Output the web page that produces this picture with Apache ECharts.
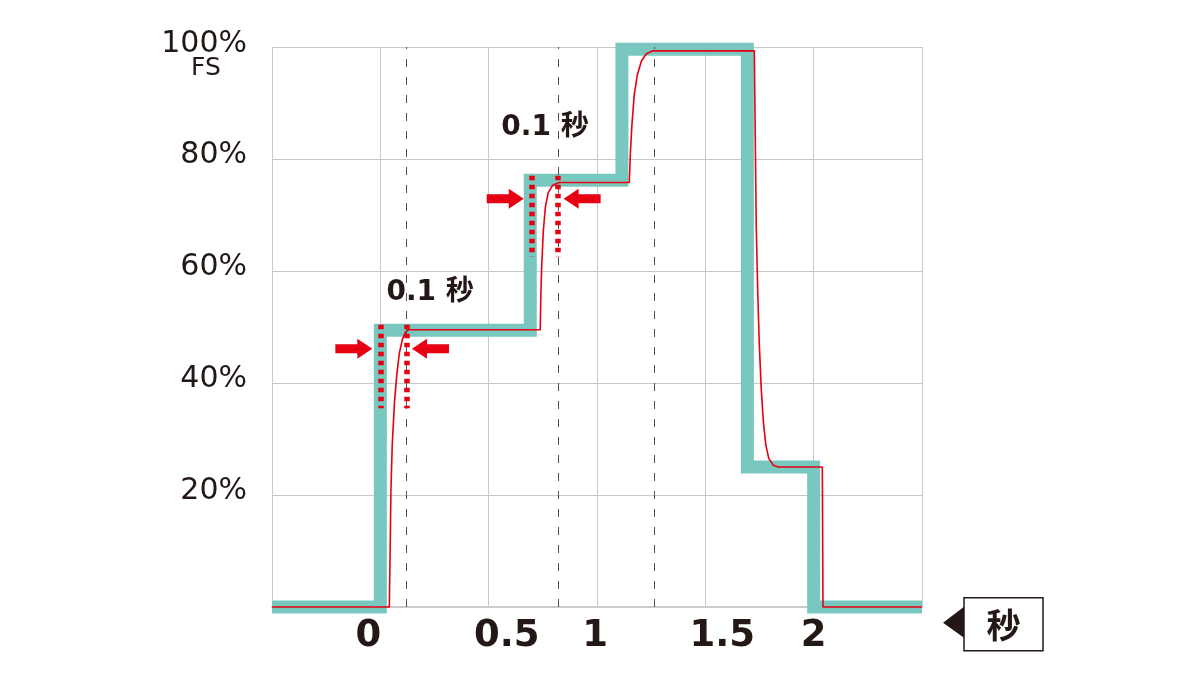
<!DOCTYPE html>
<html lang="ja" style="height: 100%">
<head>
  <meta charset="UTF-8">
  <title>step response</title>
  <script src="https://cdn.jsdelivr.net/npm/echarts@6/dist/echarts.min.js"></script>
</head>
<body style="height: 100%; margin: 0; background: #fff">
<div id="container" style="width: 1200px; height: 686px"></div>

<script type="text/javascript">
  // set point (teal thick step line), x in seconds, y in % FS
  var setpointX = [-0.5, 0, 0, 0.692, 0.692, 1.115, 1.115, 1.694, 1.694, 2.0, 2.0, 2.5];
  var setpointY = [0, 0, 49.4, 49.4, 76.2, 76.2, 99.6, 99.6, 25, 25, 0, 0];

  // output response (red thin line)
  var responseX = [-0.5, 0.0415, 0.046, 0.049, 0.055, 0.065, 0.076, 0.088, 0.102, 0.115, 0.129,
    0.738, 0.741, 0.745, 0.752, 0.762, 0.775, 0.795, 0.826,
    1.149, 1.154, 1.161, 1.172, 1.186, 1.205, 1.228, 1.255,
    1.726, 1.731, 1.735, 1.742, 1.749, 1.758, 1.768, 1.779, 1.793, 1.814, 1.837,
    2.04, 2.043, 2.5];
  var responseY = [0, 0, 12, 21, 29, 36.4, 41.5, 45.4, 47.8, 49, 49.5,
    49.5, 56, 61, 67, 71.5, 74, 75.3, 75.8,
    75.8, 81, 86, 91.5, 95, 97.5, 98.8, 99.3,
    99.3, 82, 68, 56, 47, 39, 33, 29, 26.5, 25.3, 25,
    25, 0, 0];

  // gray dashed guide lines (seconds)
  var guideX = [0.12, 0.82, 1.265];

  // red dotted markers: x, from y, to y
  var dotX = [0, 0.12, 0.70, 0.82];
  var dotY0 = [35.5, 35.5, 62.5, 62.5];
  var dotY1 = [50.4, 50.4, 77, 77];

  // red arrows: tip x, y, direction (1 = points right, -1 = points left)
  var arrowX = [-0.037, 0.146, 0.662, 0.846];
  var arrowY = [46.1, 46.1, 72.9, 72.9];
  var arrowDir = [1, -1, 1, -1];

  // notes
  var noteX = [0.23, 0.76];
  var noteY = [56.2, 85.5];
  var noteText = ['0.1 秒', '0.1 秒'];

  var xTickLabels = { '0': '{l|0}', '0.5': '{r|0.5}', '1': '{n|1}', '1.5': '{r2|1.5}', '2': '{m|2}' };

  var ink = '#231815';
  var red = '#e60012';
  var teal = '#79c8bf';
  var fontLatin = 'DejaVu Sans, Noto Sans CJK JP, sans-serif';

  function zip(a, b) {
    return a.map(function (v, i) { return [v, b[i]]; });
  }

  var dom = document.getElementById('container');
  var myChart = echarts.init(dom, null, { renderer: 'canvas' });

  var option = {
    animation: false,
    grid: { left: 272, right: 278, top: 47, bottom: 79, containLabel: false },
    xAxis: {
      type: 'value',
      min: -0.5,
      max: 2.5,
      interval: 0.5,
      axisLine: { show: true, onZero: false, lineStyle: { color: '#cccccc', width: 2 } },
      axisTick: { show: false },
      splitLine: { show: true, lineStyle: { color: '#c8c8c8', width: 1 } },
      axisLabel: {
        margin: 11,
        formatter: function (v) {
          var k = String(Math.round(v * 10) / 10);
          return xTickLabels[k] || '';
        },
        rich: {
          l: { fontSize: 37, fontWeight: 'bold', fontFamily: fontLatin, color: ink, padding: [0, 24, 0, 0] },
          r: { fontSize: 37, fontWeight: 'bold', fontFamily: fontLatin, color: ink, padding: [0, 0, 0, 36] },
          r2: { fontSize: 37, fontWeight: 'bold', fontFamily: fontLatin, color: ink, padding: [0, 0, 0, 34] },
          n: { fontSize: 37, fontWeight: 'bold', fontFamily: fontLatin, color: ink, padding: [0, 4, 0, 0] },
          m: { fontSize: 37, fontWeight: 'bold', fontFamily: fontLatin, color: ink }
        }
      }
    },
    yAxis: {
      type: 'value',
      min: 0,
      max: 100,
      interval: 20,
      axisLine: { show: false },
      axisTick: { show: false },
      splitLine: { show: true, lineStyle: { color: '#c8c8c8', width: 1 } },
      axisLabel: {
        margin: 25,
        formatter: function (v) {
          if (v === 0) return '';
          if (v === 100) return '{c|100%}';
          return '{a|' + v + '%}';
        },
        rich: {
          a: { fontSize: 30, fontFamily: fontLatin, color: ink, lineHeight: 30, padding: [0, 0, 8, 0] },
          c: { fontSize: 30, fontFamily: fontLatin, color: ink, lineHeight: 30, padding: [0, 0, 6, 0] }
        }
      }
    },
    series: [
      {
        name: 'guides',
        type: 'line',
        data: [],
        z: 1,
        silent: true,
        markLine: {
          symbol: 'none',
          silent: true,
          label: { show: false },
          lineStyle: { color: '#555555', width: 1, type: [8, 10] },
          emphasis: { disabled: true },
          data: guideX.map(function (x) {
            return [{ coord: [x, 0] }, { coord: [x, 100] }];
          })
        }
      },
      {
        name: 'setpoint',
        type: 'line',
        data: zip(setpointX, setpointY),
        showSymbol: false,
        symbol: 'none',
        clip: false,
        z: 2,
        lineStyle: { color: teal, width: 13, join: 'miter', cap: 'butt' }
      },
      {
        name: 'response',
        type: 'line',
        data: zip(responseX, responseY),
        showSymbol: false,
        symbol: 'none',
        clip: false,
        z: 3,
        lineStyle: { color: red, width: 1.6 }
      },
      {
        name: 'dots',
        type: 'line',
        data: [],
        z: 4,
        silent: true,
        markLine: {
          symbol: 'none',
          silent: true,
          label: { show: false },
          lineStyle: { color: red, width: 5.5, type: [4.5, 4.5] },
          emphasis: { disabled: true },
          data: dotX.map(function (x, i) {
            return [{ coord: [x, dotY1[i]] }, { coord: [x, dotY0[i]] }];
          })
        }
      },
      {
        name: 'arrows',
        type: 'custom',
        z: 5,
        silent: true,
        data: arrowX.map(function (x, i) { return [x, arrowY[i], arrowDir[i]]; }),
        renderItem: function (params, api) {
          var p = api.coord([api.value(0), api.value(1)]);
          var d = api.value(2);
          var bx = p[0] - d * 15;
          var sx = p[0] - d * 37;
          var y = p[1];
          return {
            type: 'polygon',
            shape: {
              points: [[p[0], y], [bx, y - 10], [bx, y - 4.5], [sx, y - 4.5],
                [sx, y + 4.5], [bx, y + 4.5], [bx, y + 10]]
            },
            style: { fill: red }
          };
        }
      },
      {
        name: 'notes',
        type: 'custom',
        z: 6,
        silent: true,
        data: zip(noteX, noteY),
        renderItem: function (params, api) {
          var p = api.coord([api.value(0), api.value(1)]);
          return {
            type: 'text',
            x: p[0],
            y: p[1],
            style: {
              text: noteText[params.dataIndex],
              fill: ink,
              fontSize: 28,
              fontWeight: 'bold',
              fontFamily: fontLatin,
              align: 'center',
              verticalAlign: 'middle'
            }
          };
        }
      }
    ],
    graphic: [
      {
        type: 'text',
        x: 206,
        y: 68,
        style: { text: 'FS', fill: ink, fontSize: 25, fontFamily: fontLatin, align: 'center', verticalAlign: 'middle' }
      },
      {
        type: 'group',
        left: 943,
        top: 597,
        children: [
          { type: 'polygon', shape: { points: [[0, 25], [21, 9], [21, 40]] }, style: { fill: ink } },
          { type: 'rect', shape: { x: 21, y: 0, width: 79, height: 53 }, style: { fill: '#fff', stroke: ink, lineWidth: 1.5 } },
          {
            type: 'text', x: 60.5, y: 27,
            style: { text: '秒', fill: ink, fontSize: 34, fontWeight: 'bold', fontFamily: 'Noto Sans CJK JP', align: 'center', verticalAlign: 'middle' }
          }
        ]
      }
    ]
  };

  myChart.setOption(option);
  window.addEventListener('resize', myChart.resize);
</script>
</body>
</html>
